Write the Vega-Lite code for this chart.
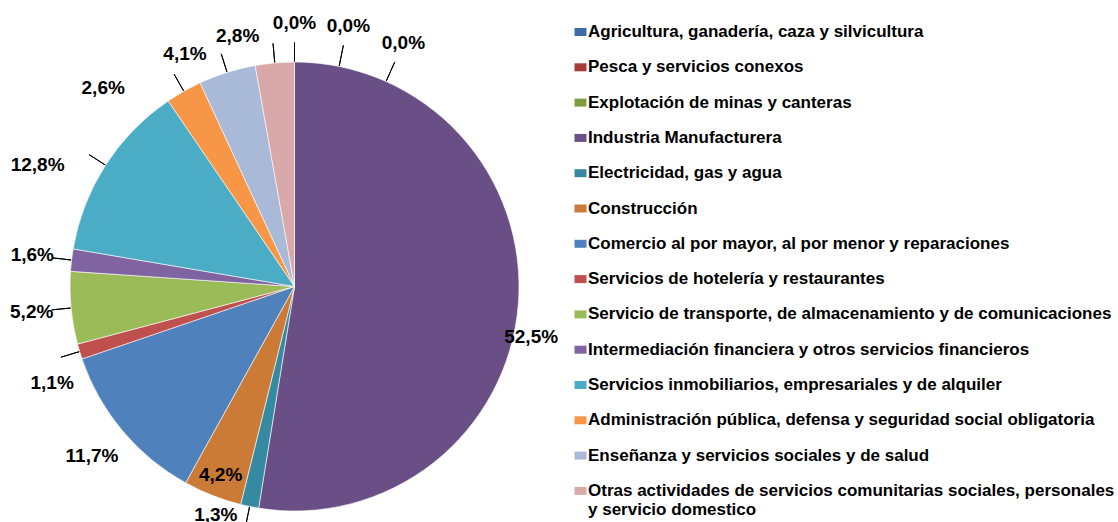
{
  "$schema": "https://vega.github.io/schema/vega-lite/v6.json",
  "width": 589,
  "height": 573,
  "padding": 0,
  "background": "white",
  "config": {"view": {"stroke": null}},
  "data": {
    "values": [
      {"cat": "Agricultura, ganadería, caza y silvicultura", "valor": 0.0, "label": "0,0%", "orden": 1},
      {"cat": "Pesca y servicios conexos", "valor": 0.0, "label": "0,0%", "orden": 2},
      {"cat": "Explotación de minas y canteras", "valor": 0.0, "label": "0,0%", "orden": 3},
      {"cat": "Industria Manufacturera", "valor": 52.5, "label": "52,5%", "orden": 4},
      {"cat": "Electricidad, gas y agua", "valor": 1.3, "label": "1,3%", "orden": 5},
      {"cat": "Construcción", "valor": 4.2, "label": "4,2%", "orden": 6},
      {"cat": "Comercio al por mayor, al por menor y reparaciones", "valor": 11.7, "label": "11,7%", "orden": 7},
      {"cat": "Servicios de hotelería y restaurantes", "valor": 1.1, "label": "1,1%", "orden": 8},
      {"cat": "Servicio de transporte, de almacenamiento y de comunicaciones", "valor": 5.2, "label": "5,2%", "orden": 9},
      {"cat": "Intermediación financiera y otros servicios financieros", "valor": 1.6, "label": "1,6%", "orden": 10},
      {"cat": "Servicios inmobiliarios, empresariales  y de alquiler", "valor": 12.8, "label": "12,8%", "orden": 11},
      {"cat": "Administración pública, defensa y seguridad social obligatoria", "valor": 2.6, "label": "2,6%", "orden": 12},
      {"cat": "Enseñanza y servicios sociales y de salud", "valor": 4.1, "label": "4,1%", "orden": 13},
      {"cat": "Otras actividades de servicios comunitarias sociales, personales y servicio domestico", "valor": 2.8, "label": "2,8%", "orden": 14}
    ]
  },
  "encoding": {
    "theta": {"field": "valor", "type": "quantitative", "stack": true},
    "order": {"field": "orden", "type": "quantitative", "sort": "ascending"}
  },
  "layer": [
    {
      "mark": {"type": "arc", "radius": 224.5, "stroke": "white", "strokeWidth": 0.6},
      "encoding": {
        "color": {
          "field": "cat",
          "type": "nominal",
          "scale": {
            "domain": [
              "Agricultura, ganadería, caza y silvicultura",
              "Pesca y servicios conexos",
              "Explotación de minas y canteras",
              "Industria Manufacturera",
              "Electricidad, gas y agua",
              "Construcción",
              "Comercio al por mayor, al por menor y reparaciones",
              "Servicios de hotelería y restaurantes",
              "Servicio de transporte, de almacenamiento y de comunicaciones",
              "Intermediación financiera y otros servicios financieros",
              "Servicios inmobiliarios, empresariales  y de alquiler",
              "Administración pública, defensa y seguridad social obligatoria",
              "Enseñanza y servicios sociales y de salud",
              "Otras actividades de servicios comunitarias sociales, personales y servicio domestico"
            ],
            "range": ["#3E6EA6", "#A63C39", "#7F9E3F", "#6A4F86", "#358AA2", "#CC7B37", "#4F81BD", "#C0504D", "#9BBB59", "#8064A2", "#4BACC6", "#F79646", "#A9B9D8", "#D9A8A8"]
          },
          "legend": {
            "title": null,
            "orient": "none",
            "legendX": 572,
            "legendY": 23.5,
            "symbolType": "M-1.5,-1L1.5,-1L1.5,1L-1.5,1Z",
            "symbolSize": 64,
            "symbolStrokeWidth": 0,
            "labelFont": "Liberation Sans",
            "labelFontWeight": "bold",
            "labelFontSize": 17,
            "labelColor": "#000000",
            "labelLimit": 700,
            "labelOffset": -1,
            "rowPadding": 17.3,
            "labelExpr": "datum.label == 'Otras actividades de servicios comunitarias sociales, personales y servicio domestico' ? ['Otras actividades de servicios comunitarias sociales, personales', 'y servicio domestico'] : datum.label"
          }
        }
      }
    },
    {
      "mark": {"type": "arc", "radius": 244, "radius2": 225, "padAngle": 1.2, "fillOpacity": 0, "stroke": "black", "strokeWidth": 1},
      "encoding": {
        "strokeOpacity": {"condition": {"test": "indexof([1,5,8,9,10,11,12,13,14], datum.orden) >= 0", "value": 1}, "value": 0}
      }
    },
    {
      "mark": {"type": "arc", "radius": 246, "radius2": 225, "padAngle": 1.2, "fillOpacity": 0, "stroke": "black", "strokeWidth": 1, "thetaOffset": 0.2, "theta2Offset": 0.2},
      "encoding": {
        "strokeOpacity": {"condition": {"test": "datum.orden == 2", "value": 1}, "value": 0}
      }
    },
    {
      "mark": {"type": "arc", "radius": 246, "radius2": 225, "padAngle": 1.2, "fillOpacity": 0, "stroke": "black", "strokeWidth": 1, "thetaOffset": 0.42, "theta2Offset": 0.42},
      "encoding": {
        "strokeOpacity": {"condition": {"test": "datum.orden == 3", "value": 1}, "value": 0}
      }
    },
    {
      "mark": {"type": "text", "font": "Liberation Sans", "fontWeight": "bold", "color": "#000000"},
      "encoding": {
        "radius": {"value": 264},
        "size": {"condition": {"test": "indexof([1,7,9,10], datum.orden) >= 0", "value": 19}, "value": 1},
        "text": {"condition": {"test": "indexof([1,7,9,10], datum.orden) >= 0", "field": "label", "type": "nominal"}, "value": ""}
      }
    },
    {
      "mark": {"type": "text", "font": "Liberation Sans", "fontWeight": "bold", "color": "#000000"},
      "encoding": {
        "radius": {"value": 202},
        "size": {"condition": {"test": "datum.orden == 6", "value": 19}, "value": 1},
        "text": {"condition": {"test": "datum.orden == 6", "field": "label", "type": "nominal"}, "value": ""}
      }
    },
    {
      "mark": {"type": "text", "font": "Liberation Sans", "fontWeight": "bold", "color": "#000000", "thetaOffset": 0.13},
      "encoding": {
        "radius": {"value": 242},
        "size": {"condition": {"test": "datum.orden == 4 || datum.orden == 5", "value": 19}, "value": 1},
        "text": {"condition": {"test": "datum.orden == 4 || datum.orden == 5", "field": "label", "type": "nominal"}, "value": ""}
      }
    },
    {
      "mark": {"type": "text", "font": "Liberation Sans", "fontWeight": "bold", "color": "#000000", "thetaOffset": -0.086},
      "encoding": {
        "radius": {"value": 261},
        "size": {"condition": {"test": "datum.orden == 8", "value": 19}, "value": 1},
        "text": {"condition": {"test": "datum.orden == 8", "field": "label", "type": "nominal"}, "value": ""}
      }
    },
    {
      "mark": {"type": "text", "font": "Liberation Sans", "fontWeight": "bold", "color": "#000000", "thetaOffset": -0.135},
      "encoding": {
        "radius": {"value": 257},
        "size": {"condition": {"test": "indexof([13,14], datum.orden) >= 0", "value": 19}, "value": 1},
        "text": {"condition": {"test": "indexof([13,14], datum.orden) >= 0", "field": "label", "type": "nominal"}, "value": ""}
      }
    },
    {
      "mark": {"type": "text", "font": "Liberation Sans", "fontWeight": "bold", "color": "#000000", "thetaOffset": -0.13},
      "encoding": {
        "radius": {"value": 284},
        "size": {"condition": {"test": "datum.orden == 11", "value": 19}, "value": 1},
        "text": {"condition": {"test": "datum.orden == 11", "field": "label", "type": "nominal"}, "value": ""}
      }
    },
    {
      "mark": {"type": "text", "font": "Liberation Sans", "fontWeight": "bold", "color": "#000000", "thetaOffset": -0.25},
      "encoding": {
        "radius": {"value": 276},
        "size": {"condition": {"test": "datum.orden == 12", "value": 19}, "value": 1},
        "text": {"condition": {"test": "datum.orden == 12", "field": "label", "type": "nominal"}, "value": ""}
      }
    },
    {
      "mark": {"type": "text", "font": "Liberation Sans", "fontWeight": "bold", "color": "#000000", "thetaOffset": 0.204},
      "encoding": {
        "radius": {"value": 266},
        "size": {"condition": {"test": "datum.orden == 2", "value": 19}, "value": 1},
        "text": {"condition": {"test": "datum.orden == 2", "field": "label", "type": "nominal"}, "value": ""}
      }
    },
    {
      "mark": {"type": "text", "font": "Liberation Sans", "fontWeight": "bold", "color": "#000000", "thetaOffset": 0.42},
      "encoding": {
        "radius": {"value": 267},
        "size": {"condition": {"test": "datum.orden == 3", "value": 19}, "value": 1},
        "text": {"condition": {"test": "datum.orden == 3", "field": "label", "type": "nominal"}, "value": ""}
      }
    }
  ]
}
